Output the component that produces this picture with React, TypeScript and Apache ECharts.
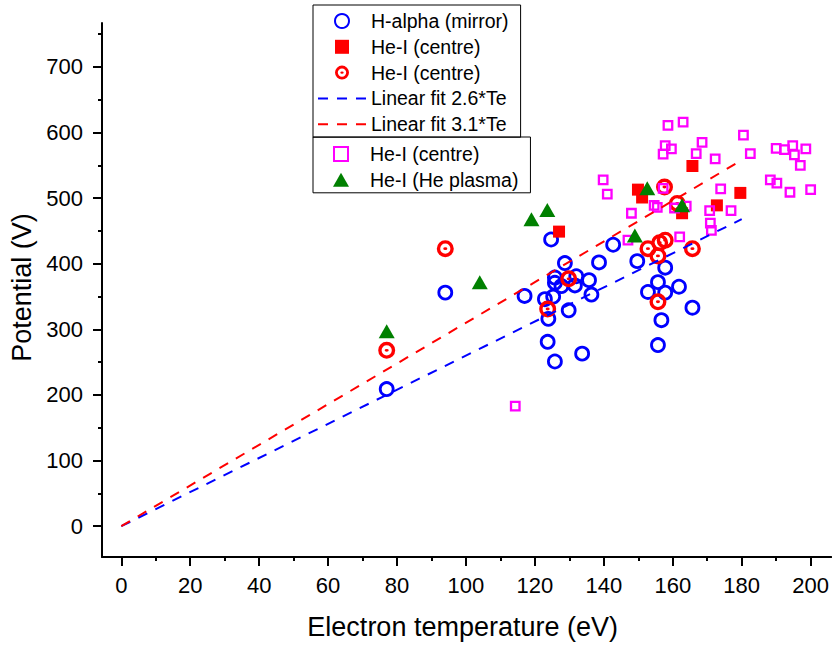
import React, { useEffect, useRef } from 'react';
import * as echarts from 'echarts';

// ---- data ----
const hAlphaMirror: [number, number][] = [
  [77, 209], [94, 356], [117, 351], [122.9, 346], [125.3, 350], [123.9, 316], [123.7, 281],
  [125.8, 251], [124.7, 437], [128.7, 401], [125.8, 379], [125.8, 371], [127.7, 366],
  [131.6, 367], [132, 381], [135.7, 375], [136.4, 353], [138.6, 402], [129.8, 329],
  [133.7, 263], [142.7, 429], [149.7, 404], [152.8, 357], [155.7, 372], [155.7, 276],
  [156.7, 314], [157.8, 394], [157.8, 356], [161.8, 365], [165.7, 333],
];
const heCentreSquare: [number, number][] = [
  [127, 449], [149.9, 513], [151.1, 501], [165.7, 549], [179.6, 508], [172.8, 489], [162.7, 477],
];
const heCentreRing: [number, number][] = [
  [77, 268], [94, 423], [123.7, 331], [129.8, 377], [152.8, 423], [155.7, 412], [156.2, 432],
  [157.8, 436], [165.7, 423], [155.7, 342], [157.6, 517], [161.3, 492],
];
const heCentreMagenta: [number, number][] = [
  [114.3, 183], [139.8, 528], [141, 506], [147, 436], [148, 477], [154.6, 489], [155.5, 486],
  [157.2, 515], [157.8, 580], [159.6, 575], [157.2, 567], [158.6, 611], [163, 616],
  [160.5, 485], [163.9, 488], [162, 441], [166.8, 568], [168.5, 585], [172.3, 560],
  [173.9, 514], [170.7, 481], [170.9, 462], [171.2, 451], [176.9, 481], [180.5, 596],
  [182.5, 568], [188.3, 528], [190.2, 523], [190, 576], [192.4, 574], [194.8, 580],
  [195.3, 566], [197, 550], [198.6, 575], [194, 509], [200, 513],
];
const heHePlasma: [number, number][] = [
  [77, 297], [104, 372], [119, 468], [123.6, 482], [149, 443], [152.6, 515], [162.7, 489],
];
const fit26: [number, number][] = [[0, 0], [180, 468]];
const fit31: [number, number][] = [[0, 0], [180, 558]];

const xMajorTicks = [0, 20, 40, 60, 80, 100, 120, 140, 160, 180, 200];
const xMinorTicks = [10, 30, 50, 70, 90, 110, 130, 150, 170, 190];
const yMajorTicks = [0, 100, 200, 300, 400, 500, 600, 700];
const yMinorTicks = [50, 150, 250, 350, 450, 550, 650, 750];

const legendLabels: Record<string, string> = {
  hAlpha: 'H-alpha (mirror)',
  heSquare: 'He-I (centre)',
  heRing: 'He-I (centre)',
  fitA: 'Linear fit 2.6*Te',
  fitB: 'Linear fit 3.1*Te',
  heMagenta: 'He-I (centre)',
  hePlasma: 'He-I (He plasma)',
};

const FONT = 'Liberation Sans, Arial, Helvetica, sans-serif';
const SQUARE = 'path://M0,0L10,0L10,10L0,10Z';
const TRIANGLE = 'path://M8,0L16,14L0,14Z';
const BULLSEYE =
  'path://M10,0A10,10 0 1,1 10,20A10,10 0 1,1 10,0ZM10,4A6,6 0 1,0 10,16A6,6 0 1,0 10,4ZM10,8.3A2.4,1.7 0 1,1 10,11.7A2.4,1.7 0 1,1 10,8.3Z';

export default function App() {
  const ref = useRef<HTMLDivElement>(null);
  useEffect(() => {
    document.body.style.margin = '0';
    const chart = echarts.init(ref.current as HTMLDivElement, null, { renderer: 'svg' });
    const axisLine = { show: true, onZero: false, lineStyle: { color: '#000', width: 2 } };
    const noLine = { show: false, onZero: false };
    const legendCommon = {
      orient: 'vertical' as const,
      left: 313,
      itemWidth: 48,
      itemHeight: 14,
      itemGap: 5.8,
      borderColor: '#000',
      borderWidth: 1,
      borderRadius: 0,
      selectedMode: false,
      formatter: (name: string) => legendLabels[name] ?? name,
      textStyle: { fontSize: 19.5, lineHeight: 20, color: '#000', fontFamily: FONT },
    };
    const hiddenSymbol = { opacity: 0 };
    chart.setOption({
      animation: false,
      backgroundColor: '#fff',
      textStyle: { fontFamily: FONT },
      grid: { left: 102, right: 0, top: 23, bottom: 87, containLabel: false },
      xAxis: [
        {
          type: 'value', min: -5.6, max: 206, position: 'bottom',
          name: 'Electron temperature (eV)', nameLocation: 'middle', nameGap: 56,
          nameTextStyle: { fontSize: 27, color: '#000', fontFamily: FONT, padding: [0, 8, 0, 0] },
          axisLine,
          axisTick: { show: true, length: 9, customValues: xMajorTicks, lineStyle: { color: '#000', width: 2 } },
          axisLabel: { show: true, customValues: xMajorTicks, fontSize: 22, color: '#000', margin: 17, fontFamily: FONT },
          splitLine: { show: false },
        },
        {
          type: 'value', min: -5.6, max: 206, position: 'bottom',
          axisLine: noLine,
          axisTick: { show: true, length: 4, customValues: xMinorTicks, lineStyle: { color: '#000', width: 2 } },
          axisLabel: { show: false },
          splitLine: { show: false },
        },
      ],
      yAxis: [
        {
          type: 'value', min: -47, max: 767, position: 'left',
          name: 'Potential (V)', nameLocation: 'middle', nameGap: 64,
          nameTextStyle: { fontSize: 27, color: '#000', fontFamily: FONT, padding: [0, 0, 0, 5] },
          axisLine,
          axisTick: { show: true, length: 9, customValues: yMajorTicks, lineStyle: { color: '#000', width: 2 } },
          axisLabel: { show: true, customValues: yMajorTicks, fontSize: 22, color: '#000', margin: 19, fontFamily: FONT },
          splitLine: { show: false },
        },
        {
          type: 'value', min: -47, max: 767, position: 'left',
          axisLine: noLine,
          axisTick: { show: true, length: 4, customValues: yMinorTicks, lineStyle: { color: '#000', width: 2 } },
          axisLabel: { show: false },
          splitLine: { show: false },
        },
      ],
      legend: [
        {
          ...legendCommon, top: 5, padding: [6, 12, 3, 4],
          data: [
            'hAlpha', 'heSquare', 'heRing',
            { name: 'fitA', itemStyle: hiddenSymbol },
            { name: 'fitB', itemStyle: hiddenSymbol },
          ],
        },
        { ...legendCommon, top: 137, padding: [7, 12, 3, 20], data: ['heMagenta', 'hePlasma'] },
      ],
      series: [
        {
          name: 'hAlpha', type: 'scatter', data: hAlphaMirror, symbol: 'circle', symbolSize: 13,
          itemStyle: { color: 'rgba(0,0,0,0)', borderColor: '#0000ff', borderWidth: 2.8, opacity: 1 },
        },
        {
          name: 'fitA', type: 'line', data: fit26, symbol: 'none', showSymbol: false,
          lineStyle: { color: '#0000ff', width: 2, type: [10, 9] }, itemStyle: { color: '#0000ff' },
        },
        {
          name: 'fitB', type: 'line', data: fit31, symbol: 'none', showSymbol: false,
          lineStyle: { color: '#ff0000', width: 2, type: [10, 9] }, itemStyle: { color: '#ff0000' },
        },
        {
          name: 'heSquare', type: 'scatter', data: heCentreSquare, symbol: SQUARE, symbolSize: 12,
          itemStyle: { color: '#ff0000', opacity: 1 },
        },
        {
          name: 'heRing', type: 'scatter', data: heCentreRing, symbol: BULLSEYE, symbolSize: 17,
          itemStyle: { color: '#ff0000', opacity: 1 },
        },
        {
          name: 'heMagenta', type: 'scatter', data: heCentreMagenta, symbol: SQUARE, symbolSize: 8.5,
          itemStyle: { color: 'rgba(0,0,0,0)', borderColor: '#ff00ff', borderWidth: 2.3, opacity: 1 },
        },
        {
          name: 'hePlasma', type: 'scatter', data: heHePlasma, symbol: TRIANGLE, symbolSize: [16, 14],
          itemStyle: { color: '#008000', opacity: 1 },
        },
      ],
    });
    return () => chart.dispose();
  }, []);
  return <div ref={ref} style={{ width: 832, height: 645, position: 'absolute', left: 0, top: 0 }} />;
}
